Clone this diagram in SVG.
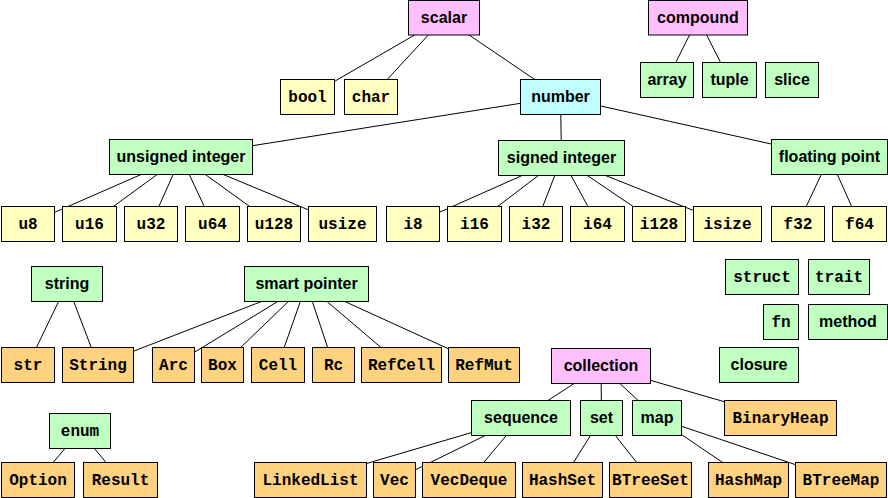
<svg xmlns="http://www.w3.org/2000/svg" width="888" height="498" viewBox="0 0 888 498">
<style>
rect{stroke:#000;stroke-width:1}
.p{fill:#ffbfff}.c{fill:#bfffff}.y{fill:#ffffc0}.g{fill:#bfffbf}.o{fill:#ffd27f}
text{font-size:16px;font-weight:bold;text-anchor:middle;fill:#000}
.s{font-family:"Liberation Sans",Arial,sans-serif}
.m{font-family:"Liberation Mono","Courier New",monospace}
#connectors line{stroke:#000;stroke-width:1}
</style>
<g id="connectors">
<line x1="444" y1="18" x2="307.5" y2="97"/>
<line x1="444" y1="18" x2="371" y2="97"/>
<line x1="444" y1="18" x2="560.5" y2="97"/>
<line x1="560.5" y1="97" x2="181" y2="157"/>
<line x1="560.5" y1="97" x2="561.5" y2="158"/>
<line x1="560.5" y1="97" x2="829.5" y2="157"/>
<line x1="181" y1="157" x2="28" y2="224"/>
<line x1="181" y1="157" x2="89.5" y2="224"/>
<line x1="181" y1="157" x2="151" y2="224"/>
<line x1="181" y1="157" x2="212.5" y2="224"/>
<line x1="181" y1="157" x2="274" y2="224"/>
<line x1="181" y1="157" x2="342.5" y2="224"/>
<line x1="561.5" y1="158" x2="413" y2="224"/>
<line x1="561.5" y1="158" x2="474.5" y2="224"/>
<line x1="561.5" y1="158" x2="536" y2="224"/>
<line x1="561.5" y1="158" x2="597.5" y2="224"/>
<line x1="561.5" y1="158" x2="659" y2="224"/>
<line x1="561.5" y1="158" x2="727.5" y2="224"/>
<line x1="829.5" y1="157" x2="798" y2="224"/>
<line x1="829.5" y1="157" x2="859.5" y2="224"/>
<line x1="698" y1="18" x2="667" y2="80"/>
<line x1="698" y1="18" x2="729.5" y2="80"/>
<line x1="67" y1="284" x2="28" y2="365"/>
<line x1="67" y1="284" x2="98" y2="365"/>
<line x1="306.5" y1="284" x2="98" y2="365"/>
<line x1="306.5" y1="284" x2="173.5" y2="365"/>
<line x1="306.5" y1="284" x2="222.5" y2="365"/>
<line x1="306.5" y1="284" x2="278" y2="365"/>
<line x1="306.5" y1="284" x2="333.5" y2="365"/>
<line x1="306.5" y1="284" x2="401.5" y2="365"/>
<line x1="306.5" y1="284" x2="484" y2="365"/>
<line x1="80" y1="431" x2="38" y2="480"/>
<line x1="80" y1="431" x2="120.5" y2="480"/>
<line x1="601" y1="366" x2="521" y2="418"/>
<line x1="601" y1="366" x2="601.5" y2="418"/>
<line x1="601" y1="366" x2="657" y2="418"/>
<line x1="601" y1="366" x2="780.5" y2="418"/>
<line x1="521" y1="418" x2="310.5" y2="480"/>
<line x1="521" y1="418" x2="394.5" y2="480"/>
<line x1="521" y1="418" x2="469" y2="480"/>
<line x1="601.5" y1="418" x2="562.5" y2="480"/>
<line x1="601.5" y1="418" x2="650.5" y2="480"/>
<line x1="657" y1="418" x2="748.5" y2="480"/>
<line x1="657" y1="418" x2="841" y2="480"/>
</g>
<g id="scalar"><rect class="p" x="408.5" y="0.5" width="71" height="34.5"/><text class="s" x="444" y="22.5">scalar</text></g>
<g id="compound"><rect class="p" x="648.5" y="0.5" width="99" height="34.5"/><text class="s" x="698" y="22.5">compound</text></g>
<g id="array"><rect class="g" x="640.5" y="62.5" width="53" height="35"/><text class="s" x="667" y="84.5">array</text></g>
<g id="tuple"><rect class="g" x="702.5" y="62.5" width="54" height="35"/><text class="s" x="729.5" y="84.5">tuple</text></g>
<g id="slice"><rect class="g" x="765.5" y="62.5" width="53" height="35"/><text class="s" x="792" y="84.5">slice</text></g>
<g id="bool"><rect class="y" x="280.5" y="79.5" width="54" height="35"/><text class="m" x="307.5" y="101.5">bool</text></g>
<g id="char"><rect class="y" x="344.5" y="79.5" width="53" height="35"/><text class="m" x="371" y="101.5">char</text></g>
<g id="number"><rect class="c" x="520.5" y="79.5" width="80" height="35"/><text class="s" x="560.5" y="101.5">number</text></g>
<g id="unsigned-integer"><rect class="g" x="109.5" y="139.5" width="143" height="35"/><text class="s" x="181" y="161.5">unsigned integer</text></g>
<g id="signed-integer"><rect class="g" x="498.5" y="140.5" width="126" height="35"/><text class="s" x="561.5" y="162.5">signed integer</text></g>
<g id="floating-point"><rect class="g" x="771.5" y="139.5" width="116" height="35"/><text class="s" x="829.5" y="161.5">floating point</text></g>
<g id="u8"><rect class="y" x="1.5" y="206.5" width="53" height="35"/><text class="m" x="28" y="228.5">u8</text></g>
<g id="u16"><rect class="y" x="62.5" y="206.5" width="54" height="35"/><text class="m" x="89.5" y="228.5">u16</text></g>
<g id="u32"><rect class="y" x="124.5" y="206.5" width="53" height="35"/><text class="m" x="151" y="228.5">u32</text></g>
<g id="u64"><rect class="y" x="185.5" y="206.5" width="54" height="35"/><text class="m" x="212.5" y="228.5">u64</text></g>
<g id="u128"><rect class="y" x="247.5" y="206.5" width="53" height="35"/><text class="m" x="274" y="228.5">u128</text></g>
<g id="usize"><rect class="y" x="308.5" y="206.5" width="68" height="35"/><text class="m" x="342.5" y="228.5">usize</text></g>
<g id="i8"><rect class="y" x="386.5" y="206.5" width="53" height="35"/><text class="m" x="413" y="228.5">i8</text></g>
<g id="i16"><rect class="y" x="447.5" y="206.5" width="54" height="35"/><text class="m" x="474.5" y="228.5">i16</text></g>
<g id="i32"><rect class="y" x="509.5" y="206.5" width="53" height="35"/><text class="m" x="536" y="228.5">i32</text></g>
<g id="i64"><rect class="y" x="570.5" y="206.5" width="54" height="35"/><text class="m" x="597.5" y="228.5">i64</text></g>
<g id="i128"><rect class="y" x="632.5" y="206.5" width="53" height="35"/><text class="m" x="659" y="228.5">i128</text></g>
<g id="isize"><rect class="y" x="693.5" y="206.5" width="68" height="35"/><text class="m" x="727.5" y="228.5">isize</text></g>
<g id="f32"><rect class="y" x="771.5" y="206.5" width="53" height="35"/><text class="m" x="798" y="228.5">f32</text></g>
<g id="f64"><rect class="y" x="832.5" y="206.5" width="54" height="35"/><text class="m" x="859.5" y="228.5">f64</text></g>
<g id="struct"><rect class="g" x="725.5" y="259.5" width="73" height="35"/><text class="m" x="762" y="281.5">struct</text></g>
<g id="trait"><rect class="g" x="808.5" y="259.5" width="61" height="35"/><text class="m" x="839" y="281.5">trait</text></g>
<g id="string"><rect class="g" x="31.5" y="266.5" width="71" height="35"/><text class="s" x="67" y="288.5">string</text></g>
<g id="smart-pointer"><rect class="g" x="244.5" y="266.5" width="124" height="35"/><text class="s" x="306.5" y="288.5">smart pointer</text></g>
<g id="fn"><rect class="g" x="763.5" y="304.5" width="35" height="35"/><text class="m" x="781" y="326.5">fn</text></g>
<g id="method"><rect class="g" x="808.5" y="304.5" width="79" height="35"/><text class="s" x="848" y="326.5">method</text></g>
<g id="str"><rect class="o" x="1.5" y="347.5" width="53" height="35"/><text class="m" x="28" y="369.5">str</text></g>
<g id="String"><rect class="o" x="62.5" y="347.5" width="71" height="35"/><text class="m" x="98" y="369.5">String</text></g>
<g id="Arc"><rect class="o" x="152.5" y="347.5" width="42" height="35"/><text class="m" x="173.5" y="369.5">Arc</text></g>
<g id="Box"><rect class="o" x="201.5" y="347.5" width="42" height="35"/><text class="m" x="222.5" y="369.5">Box</text></g>
<g id="Cell"><rect class="o" x="251.5" y="347.5" width="53" height="35"/><text class="m" x="278" y="369.5">Cell</text></g>
<g id="Rc"><rect class="o" x="312.5" y="347.5" width="42" height="35"/><text class="m" x="333.5" y="369.5">Rc</text></g>
<g id="RefCell"><rect class="o" x="361.5" y="347.5" width="80" height="35"/><text class="m" x="401.5" y="369.5">RefCell</text></g>
<g id="RefMut"><rect class="o" x="448.5" y="347.5" width="71" height="35"/><text class="m" x="484" y="369.5">RefMut</text></g>
<g id="closure"><rect class="g" x="719.5" y="347.5" width="79" height="35"/><text class="s" x="759" y="369.5">closure</text></g>
<g id="collection"><rect class="p" x="551.5" y="348.5" width="99" height="35"/><text class="s" x="601" y="370.5">collection</text></g>
<g id="sequence"><rect class="g" x="471.5" y="400.5" width="99" height="35"/><text class="s" x="521" y="422.5">sequence</text></g>
<g id="set"><rect class="g" x="580.5" y="400.5" width="42" height="35"/><text class="s" x="601.5" y="422.5">set</text></g>
<g id="map"><rect class="g" x="632.5" y="400.5" width="49" height="35"/><text class="s" x="657" y="422.5">map</text></g>
<g id="BinaryHeap"><rect class="o" x="724.5" y="400.5" width="112" height="35"/><text class="m" x="780.5" y="422.5">BinaryHeap</text></g>
<g id="enum"><rect class="g" x="49.5" y="413.5" width="61" height="35"/><text class="m" x="80" y="435.5">enum</text></g>
<g id="Option"><rect class="o" x="1.5" y="462.5" width="73" height="35"/><text class="m" x="38" y="484.5">Option</text></g>
<g id="Result"><rect class="o" x="83.5" y="462.5" width="74" height="35"/><text class="m" x="120.5" y="484.5">Result</text></g>
<g id="LinkedList"><rect class="o" x="254.5" y="462.5" width="112" height="35"/><text class="m" x="310.5" y="484.5">LinkedList</text></g>
<g id="Vec"><rect class="o" x="373.5" y="462.5" width="42" height="35"/><text class="m" x="394.5" y="484.5">Vec</text></g>
<g id="VecDeque"><rect class="o" x="422.5" y="462.5" width="93" height="35"/><text class="m" x="469" y="484.5">VecDeque</text></g>
<g id="HashSet"><rect class="o" x="522.5" y="462.5" width="80" height="35"/><text class="m" x="562.5" y="484.5">HashSet</text></g>
<g id="BTreeSet"><rect class="o" x="609.5" y="462.5" width="82" height="35"/><text class="m" x="650.5" y="484.5">BTreeSet</text></g>
<g id="HashMap"><rect class="o" x="708.5" y="462.5" width="80" height="35"/><text class="m" x="748.5" y="484.5">HashMap</text></g>
<g id="BTreeMap"><rect class="o" x="795.5" y="462.5" width="91" height="35"/><text class="m" x="841" y="484.5">BTreeMap</text></g>
</svg>
